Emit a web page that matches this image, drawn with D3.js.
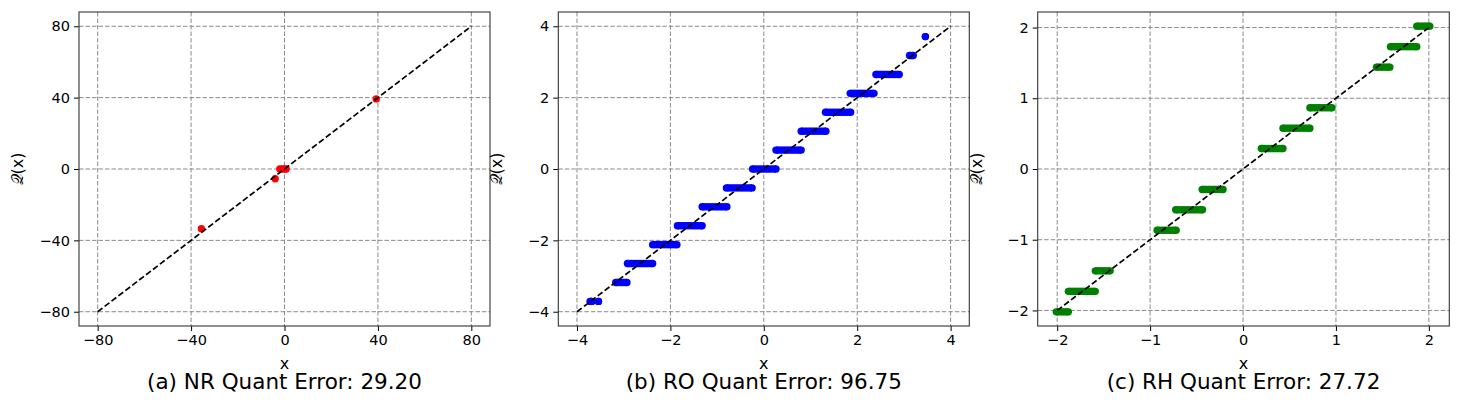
<!DOCTYPE html>
<html>
<head>
<meta charset="utf-8">
<script src="https://cdn.jsdelivr.net/npm/d3@7"></script>
<style>
	body { margin: 0; background: white; }
	text { font-family: "DejaVu Sans", sans-serif; fill: black; }
</style>
</head>
<body>
<svg id="chart" width="1461" height="406"></svg>
<script>
// ---------- data ----------
// (a) NR: a handful of scattered points
const nrX = [-35.6, -4.0, -2.0, -1.0, 0.0, 0.7, 39.3];
const nrY = [-33.5, -5.5, 0.0, 0.0, 0.0, 0.0, 39.3];

// (b) RO: each run of points at one quantised level, from first x to last x
const roLevel = [-3.71, -3.71, -3.18, -2.65, -2.12, -1.59, -1.06, -0.53, 0.0, 0.53, 1.06, 1.59, 2.12, 2.65, 3.18, 3.71];
const roStart = [-3.72, -3.54, -3.17, -2.92, -2.38, -1.85, -1.32, -0.8, -0.24, 0.26, 0.8, 1.32, 1.85, 2.4, 3.12, 3.46];
const roEnd = [-3.68, -3.54, -2.93, -2.38, -1.86, -1.32, -0.79, -0.25, 0.26, 0.8, 1.33, 1.86, 2.36, 2.9, 3.2, 3.46];

// (c) RH: same layout
const rhLevel = [-2.02, -1.73, -1.44, -0.866, -0.577, -0.289, 0.289, 0.577, 0.866, 1.44, 1.73, 2.02];
const rhStart = [-2.01, -1.88, -1.59, -0.925, -0.725, -0.44, 0.197, 0.43, 0.72, 1.436, 1.587, 1.87];
const rhEnd = [-1.88, -1.59, -1.43, -0.72, -0.436, -0.215, 0.43, 0.72, 0.957, 1.58, 1.87, 2.01];

const nrTicks = [-80, -40, 0, 40, 80];
const roTicks = [-4, -2, 0, 2, 4];
const rhTicks = [-2, -1, 0, 1, 2];

const titles = ["(a) NR Quant Error: 29.20", "(b) RO Quant Error: 96.75", "(c) RH Quant Error: 27.72"];

const svg = d3.select("#chart");
const plotTop = 12, plotBottom = 326;
const r = 3.7;

function minus(d) {
	return String(d).replace("-", "\u2212");
}

function drawPanel(left, right, xDom, yDom, ticks, lineEnd, title) {
	const x = d3.scaleLinear().domain(xDom).range([left, right]);
	const y = d3.scaleLinear().domain(yDom).range([plotBottom, plotTop]);
	const g = svg.append("g");

	// grid
	g.selectAll(".vg")
		.data(ticks)
		.join("line")
		.attr("x1", (d) => x(d))
		.attr("x2", (d) => x(d))
		.attr("y1", plotTop)
		.attr("y2", plotBottom)
		.attr("stroke", "#8a8a8a")
		.attr("stroke-width", 1)
		.style("stroke-dasharray", "4.5,2");
	g.selectAll(".hg")
		.data(ticks)
		.join("line")
		.attr("x1", left)
		.attr("x2", right)
		.attr("y1", (d) => y(d))
		.attr("y2", (d) => y(d))
		.attr("stroke", "#8a8a8a")
		.attr("stroke-width", 1)
		.style("stroke-dasharray", "4.5,2");

	const marks = g.append("g");

	// axes
	const bottomAxis = d3.axisBottom(x).tickValues(ticks).tickSize(5).tickPadding(4).tickFormat(minus);
	g.append("g")
		.attr("transform", `translate(0,${plotBottom})`)
		.call(bottomAxis)
		.call((a) => a.select(".domain").remove())
		.call((a) => a.selectAll("text").attr("font-size", "14.5px").attr("font-family", "DejaVu Sans"));
	const leftAxis = d3.axisLeft(y).tickValues(ticks).tickSize(5).tickPadding(4).tickFormat(minus);
	g.append("g")
		.attr("transform", `translate(${left},0)`)
		.call(leftAxis)
		.call((a) => a.select(".domain").remove())
		.call((a) => a.selectAll("text").attr("font-size", "14.5px").attr("font-family", "DejaVu Sans"));

	g.append("rect")
		.attr("x", left)
		.attr("y", plotTop)
		.attr("width", right - left)
		.attr("height", plotBottom - plotTop)
		.attr("fill", "none")
		.attr("stroke", "#333")
		.attr("stroke-width", 1.1);

	// labels
	const cx = (left + right) / 2;
	g.append("text")
		.attr("x", cx)
		.attr("y", 368.5)
		.attr("text-anchor", "middle")
		.attr("font-size", "16px")
		.text("x");
	g.append("text")
		.attr("transform", `translate(${left - 56},${(plotTop + plotBottom) / 2}) rotate(-90)`)
		.attr("text-anchor", "middle")
		.attr("font-size", "16px")
		.text("\u{1D4AC}(x)");
	g.append("text")
		.attr("x", cx)
		.attr("y", 389)
		.attr("text-anchor", "middle")
		.attr("font-size", "21.5px")
		.text(title);

	// y = x reference line
	g.append("line")
		.attr("x1", x(-lineEnd))
		.attr("y1", y(-lineEnd))
		.attr("x2", x(lineEnd))
		.attr("y2", y(lineEnd))
		.attr("stroke", "black")
		.attr("stroke-width", 1.7)
		.style("stroke-dasharray", "6,2.7");

	return { x, y, marks };
}

function drawRuns(p, level, start, end, color) {
	const idx = d3.range(level.length);
	p.marks.selectAll(".run")
		.data(idx)
		.join("rect")
		.attr("x", (i) => p.x(start[i]))
		.attr("y", (i) => p.y(level[i]) - r)
		.attr("width", (i) => p.x(end[i]) - p.x(start[i]))
		.attr("height", 2 * r)
		.attr("fill", color);
	p.marks.selectAll(".s")
		.data(idx)
		.join("circle")
		.attr("cx", (i) => p.x(start[i]))
		.attr("cy", (i) => p.y(level[i]))
		.attr("r", r)
		.attr("fill", color);
	p.marks.selectAll(".e")
		.data(idx)
		.join("circle")
		.attr("cx", (i) => p.x(end[i]))
		.attr("cy", (i) => p.y(level[i]))
		.attr("r", r)
		.attr("fill", color);
}

// ====================PANEL A==========================
const pa = drawPanel(79, 490, [-88, 88], [-88, 88], nrTicks, 80, titles[0]);
pa.marks.selectAll("circle")
	.data(nrX)
	.join("circle")
	.attr("cx", (d) => pa.x(d))
	.attr("cy", (d, i) => pa.y(nrY[i]))
	.attr("r", r)
	.attr("fill", "#ff0000");

// ====================PANEL B==========================
const pb = drawPanel(558.3, 969.3, [-4.4, 4.4], [-4.4, 4.4], roTicks, 4, titles[1]);
drawRuns(pb, roLevel, roStart, roEnd, "#0000ff");

// ====================PANEL C==========================
const pc = drawPanel(1037.7, 1449.3, [-2.21, 2.22], [-2.22, 2.22], rhTicks, 2, titles[2]);
drawRuns(pc, rhLevel, rhStart, rhEnd, "#008000");
</script>
</body>
</html>
